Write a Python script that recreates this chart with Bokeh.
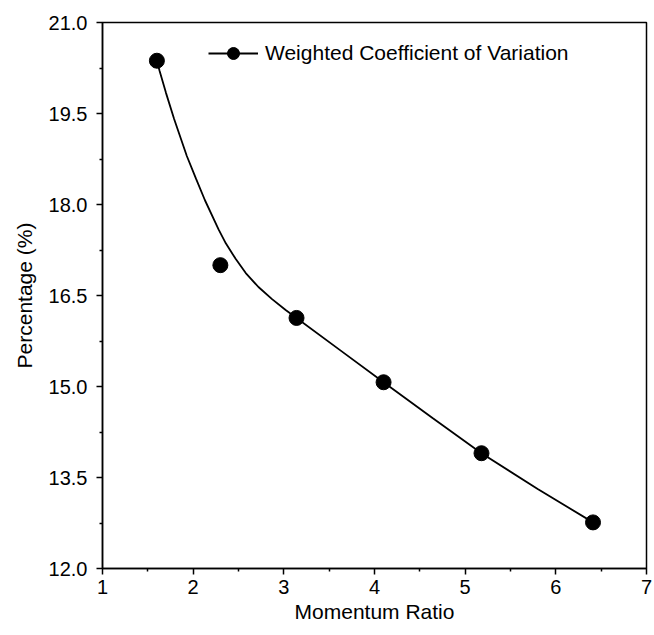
from bokeh.plotting import figure
from bokeh.models import FixedTicker, PrintfTickFormatter, Legend, LegendItem
from bokeh.embed import file_html
from bokeh.resources import INLINE

# Measured points
momentum_ratio = [1.60, 2.30, 3.14, 4.10, 5.18, 6.41]
weighted_cv = [20.37, 17.00, 16.13, 15.07, 13.90, 12.76]

# Smoothed curve
curve_x = [1.60, 1.63, 1.70, 1.79, 1.93, 2.03, 2.13, 2.28, 2.36, 2.47, 2.58, 2.72,
           2.87, 3.02, 3.14, 3.62, 4.10, 4.64, 5.18, 5.80, 6.41]
curve_y = [20.37, 20.20, 19.84, 19.41, 18.80, 18.43, 18.07, 17.59, 17.36, 17.10, 16.87, 16.64,
           16.44, 16.26, 16.13, 15.60, 15.07, 14.48, 13.90, 13.31, 12.76]

x_ticks = [1, 2, 3, 4, 5, 6, 7]
x_minor = [1.5, 2.5, 3.5, 4.5, 5.5, 6.5]
y_ticks = [12.0, 13.5, 15.0, 16.5, 18.0, 19.5, 21.0]
y_minor = [12.75, 14.25, 15.75, 17.25, 18.75, 20.25]

FONT = "Liberation Sans"

p = figure(width=654, height=635, x_range=(1, 7), y_range=(12, 21),
           output_backend="svg", toolbar_location=None,
           min_border_left=102, min_border_right=8, min_border_top=22, min_border_bottom=67)

p.grid.visible = False
p.outline_line_color = "black"
p.outline_line_width = 1.5
p.background_fill_color = "white"
p.border_fill_color = "white"

for ax in (p.xaxis[0], p.yaxis[0]):
    ax.axis_line_width = 1.5
    ax.major_tick_line_width = 1.5
    ax.minor_tick_line_width = 1.5
    ax.major_tick_out = 6
    ax.major_tick_in = 0
    ax.minor_tick_out = 3
    ax.minor_tick_in = 0
    ax.major_label_text_font = FONT
    ax.major_label_text_font_size = "20px"
    ax.major_label_text_color = "black"
    ax.axis_label_text_font = FONT
    ax.axis_label_text_font_size = "21px"
    ax.axis_label_text_font_style = "normal"
    ax.axis_label_text_color = "black"

p.xaxis[0].ticker = FixedTicker(ticks=x_ticks, minor_ticks=x_minor)
p.yaxis[0].ticker = FixedTicker(ticks=y_ticks, minor_ticks=y_minor)
p.yaxis[0].formatter = PrintfTickFormatter(format="%.1f")
p.xaxis[0].axis_label = "Momentum Ratio"
p.yaxis[0].axis_label = "Percentage (%)"
p.xaxis[0].major_label_standoff = 5
p.xaxis[0].axis_label_standoff = 3
p.yaxis[0].major_label_standoff = 9
p.yaxis[0].axis_label_standoff = 10

line_r = p.line(curve_x, curve_y, line_color="black", line_width=1.8)
pts_r = p.scatter(momentum_ratio, weighted_cv, size=15, fill_color="black", line_color="black")

legend = Legend(items=[LegendItem(label="Weighted Coefficient of Variation", renderers=[line_r, pts_r])],
                location=(106, 500), padding=0, margin=0, spacing=0,
                glyph_width=50, glyph_height=30, label_standoff=7,
                label_text_font=FONT, label_text_font_size="21px", label_text_color="black",
                border_line_color=None, background_fill_alpha=0)
p.add_layout(legend)

open("out.html", "w").write(file_html(p, INLINE))
